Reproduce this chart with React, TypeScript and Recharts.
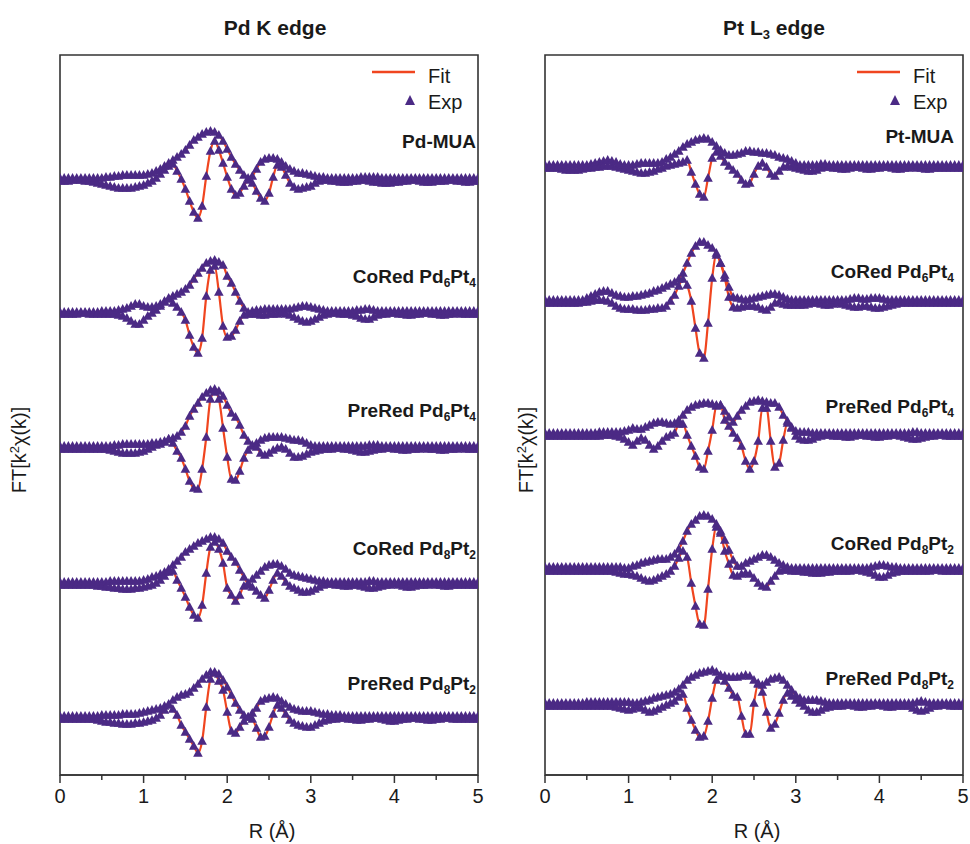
import React from 'react';
import { ComposedChart, Line, Scatter, XAxis, YAxis, ReferenceArea } from 'recharts';

const RED = '#f0451f';
const PURPLE = '#4b2a85';
const FRAME = '#333333';
const TEXT = '#1a1a1a';
const FONT = '"Liberation Sans", Arial, sans-serif';

// R grid (Å)
const rValues = [
  0, 0.05, 0.1, 0.15, 0.2, 0.25, 0.3, 0.35, 0.4, 0.45, 0.5,
  0.55, 0.6, 0.65, 0.7, 0.75, 0.8, 0.85, 0.9, 0.95, 1,
  1.05, 1.1, 1.15, 1.2, 1.25, 1.3, 1.35, 1.4, 1.45, 1.5,
  1.55, 1.6, 1.65, 1.7, 1.75, 1.8, 1.85, 1.9, 1.95, 2,
  2.05, 2.1, 2.15, 2.2, 2.25, 2.3, 2.35, 2.4, 2.45, 2.5,
  2.55, 2.6, 2.65, 2.7, 2.75, 2.8, 2.85, 2.9, 2.95, 3,
  3.05, 3.1, 3.15, 3.2, 3.25, 3.3, 3.35, 3.4, 3.45, 3.5,
  3.55, 3.6, 3.65, 3.7, 3.75, 3.8, 3.85, 3.9, 3.95, 4,
  4.05, 4.1, 4.15, 4.2, 4.25, 4.3, 4.35, 4.4, 4.45, 4.5,
  4.55, 4.6, 4.65, 4.7, 4.75, 4.8, 4.85, 4.9, 4.95, 5,
];

// ---- Pd K edge: magnitude / imaginary part ----
const pdMuaMag = [
  3, 3, 3, 3, 3, 3, 3, 3, 3, 3, 3,
  4, 4, 5, 5, 6, 6, 6, 6, 6, 6,
  7, 8, 10, 12, 15, 18, 21, 24, 27, 31,
  36, 41, 44, 47, 49, 50, 49, 46, 40, 32,
  24, 17, 11, 6, 3, 5, 12, 19, 22, 23,
  23, 22, 19, 15, 12, 10, 8, 8, 7, 6,
  5, 4, 4, 3, 3, 3, 3, 3, 3, 3,
  3, 4, 4, 4, 4, 4, 3, 3, 3, 3,
  3, 3, 3, 3, 3, 3, 3, 3, 3, 3,
  3, 3, 3, 3, 3, 3, 3, 3, 3, 3,
];
const pdMuaIm = [
  0, 0, 0, 1, 1, 1, 0, 0, -1, -2, -3,
  -4, -5, -6, -7, -7, -7, -7, -6, -5, -4,
  -2, 0, 3, 7, 11, 15, 17, 10, 2, -8,
  -20, -31, -37, -25, 5, 30, 40, 31, 18, 4,
  -8, -14, -12, -5, 1, -2, -10, -17, -20, -12,
  4, 16, 14, 6, -2, -6, -8, -7, -6, -5,
  -2, 0, 1, 1, 0, 0, -1, -1, -1, 0,
  0, 1, 1, 0, -1, -1, -2, -2, -2, -1,
  -1, 0, 0, 1, 1, 0, -1, -1, -1, 0,
  0, 0, 1, 1, 0, 0, -1, -1, 0, 0,
];
const pdCo64Mag = [
  2, 2, 2, 2, 2, 2, 2, 2, 2, 2, 3,
  3, 3, 3, 4, 5, 6, 8, 10, 10, 8,
  7, 7, 8, 10, 13, 16, 18, 20, 22, 25,
  29, 35, 41, 46, 51, 53, 54, 52, 49, 38,
  31, 22, 13, 6, 2, 3, 4, 4, 5, 5,
  5, 5, 5, 5, 5, 6, 7, 8, 8, 7,
  6, 5, 4, 3, 3, 3, 3, 3, 3, 3,
  4, 4, 5, 5, 4, 3, 3, 3, 3, 3,
  3, 3, 3, 3, 3, 3, 3, 3, 3, 3,
  3, 3, 3, 3, 3, 3, 3, 3, 3, 3,
];
const pdCo64Im = [
  0, 0, 0, 0, 0, 1, 1, 0, 0, 0, 0,
  0, 0, 0, -1, -2, -4, -7, -10, -10, -6,
  -2, 1, 4, 8, 12, 15, 11, 7, 2, -6,
  -21, -33, -39, -24, 18, 44, 48, 22, -12, -23,
  -22, -16, -7, -1, 0, 0, 0, -1, -1, 0,
  0, 0, 1, 0, -1, -3, -5, -7, -8, -7,
  -5, -3, -1, 0, 1, 1, 0, 0, 0, -1,
  -2, -4, -5, -5, -3, -1, 0, 0, 1, 1,
  0, 0, -1, -1, 0, 0, 1, 1, 0, 0,
  -1, -1, 0, 0, 1, 0, 0, 0, 0, 0,
];
const pdPre64Mag = [
  3, 3, 3, 3, 3, 3, 3, 3, 3, 3, 3,
  3, 3, 4, 4, 5, 5, 5, 5, 5, 5,
  5, 6, 6, 7, 8, 10, 11, 13, 17, 23,
  33, 40, 46, 52, 56, 59, 60, 58, 53, 44,
  36, 32, 24, 14, 8, 4, 6, 9, 11, 12,
  12, 12, 12, 11, 10, 9, 9, 8, 6, 4,
  3, 3, 3, 3, 3, 3, 3, 3, 3, 3,
  3, 3, 3, 4, 4, 4, 3, 3, 3, 3,
  3, 3, 3, 3, 3, 3, 3, 3, 3, 3,
  3, 3, 3, 3, 3, 3, 3, 3, 3, 3,
];
const pdPre64Im = [
  0, 0, 0, 0, 0, 0, 0, 0, 0, 0, 0,
  0, -1, -2, -3, -4, -4, -4, -4, -3, -2,
  0, 2, 4, 5, 7, 10, 6, -2, -9, -20,
  -32, -39, -40, -20, 12, 50, 57, 50, 21, -8,
  -30, -31, -22, -9, -1, 3, 2, -4, -6, -4,
  -1, 1, 2, 0, -4, -8, -8, -7, -5, -3,
  -2, -1, 0, 0, 0, 1, 1, 0, 0, -1,
  -2, -3, -3, -2, -1, 0, 0, 1, 1, 0,
  0, -1, -1, 0, 0, 0, 1, 0, 0, 0,
  -1, -1, 0, 0, 0, 1, 0, 0, 0, 0,
];
const pdCo82Mag = [
  3, 3, 3, 3, 3, 3, 3, 3, 3, 3, 3,
  3, 4, 4, 4, 4, 4, 4, 4, 4, 5,
  6, 8, 9, 11, 13, 16, 20, 24, 28, 33,
  36, 39, 42, 44, 46, 48, 48, 46, 42, 34,
  28, 23, 15, 8, 2, 6, 10, 14, 18, 20,
  21, 21, 19, 16, 12, 10, 9, 8, 7, 6,
  5, 4, 4, 3, 3, 3, 3, 3, 3, 3,
  3, 3, 3, 4, 4, 3, 3, 3, 3, 3,
  3, 3, 3, 3, 3, 3, 3, 3, 3, 3,
  3, 3, 3, 3, 3, 3, 3, 3, 3, 3,
];
const pdCo82Im = [
  0, 0, 0, 0, 0, 0, 0, 0, 0, -1, -1,
  -2, -2, -3, -3, -4, -4, -4, -3, -3, -2,
  -1, 0, 2, 5, 9, 13, 14, 5, -3, -12,
  -22, -30, -33, -20, 12, 38, 43, 36, 22, -3,
  -10, -16, -10, -1, 0, -2, -6, -10, -13, -5,
  5, 12, 9, 3, -1, -3, -5, -7, -7, -6,
  -4, -2, 0, 1, 1, 0, 0, -1, -1, 0,
  0, -1, -2, -3, -3, -2, -1, 0, 0, 1,
  0, -1, -2, -2, -1, 0, 0, 0, 1, 0,
  0, -1, -1, 0, 0, 0, 0, 0, 0, 0,
];
const pdPre82Mag = [
  3, 3, 3, 3, 3, 3, 3, 3, 3, 3, 4,
  4, 4, 4, 4, 5, 5, 5, 5, 6, 7,
  8, 9, 10, 11, 13, 15, 19, 22, 24, 25,
  27, 31, 35, 40, 44, 47, 47, 45, 39, 32,
  24, 16, 9, 4, 2, 6, 11, 18, 20, 21,
  22, 21, 18, 15, 12, 10, 9, 8, 8, 8,
  7, 6, 5, 5, 4, 4, 4, 3, 3, 3,
  3, 3, 3, 3, 3, 3, 3, 3, 3, 3,
  3, 3, 3, 3, 3, 3, 3, 3, 3, 3,
  3, 3, 3, 3, 3, 3, 3, 3, 3, 3,
];
const pdPre82Im = [
  0, 0, 0, 0, 0, 0, 0, 0, 0, -1, -2,
  -3, -3, -4, -4, -5, -5, -5, -4, -4, -3,
  -2, -1, 1, 4, 9, 14, 10, 4, -6, -13,
  -20, -27, -34, -22, 12, 40, 46, 38, 29, 7,
  -12, -14, -8, -2, 2, 0, -9, -18, -17, -8,
  5, 14, 11, 5, -1, -4, -6, -7, -8, -8,
  -6, -4, -2, -1, 0, 0, 1, 1, 0, 0,
  -1, -1, 0, 0, 1, 1, 0, -1, -2, -2,
  -1, 0, 0, 1, 1, 0, 0, -1, -1, 0,
  0, 1, 1, 0, 0, 0, 0, 0, 0, 0,
];

// ---- Pt L3 edge: magnitude / imaginary part ----
const ptMuaMag = [
  3, 3, 3, 3, 3, 3, 3, 3, 3, 3, 3,
  4, 5, 6, 7, 8, 7, 6, 4, 3, 3,
  3, 4, 5, 5, 5, 5, 5, 6, 9, 11,
  14, 17, 21, 24, 26, 28, 29, 30, 29, 26,
  22, 18, 15, 13, 13, 14, 15, 17, 17, 16,
  16, 15, 15, 14, 13, 11, 10, 9, 7, 5,
  3, 3, 3, 3, 3, 4, 4, 3, 3, 3,
  3, 3, 3, 3, 3, 3, 3, 3, 3, 3,
  3, 3, 3, 3, 3, 3, 3, 3, 3, 3,
  3, 3, 3, 3, 3, 3, 3, 3, 3, 3,
];
const ptMuaIm = [
  0, 0, 0, 0, -1, -2, -2, -2, -2, -1, 0,
  0, 1, 1, 2, 2, 2, 1, 0, -1, -2,
  -3, -4, -5, -5, -4, -3, -1, 0, 2, 3,
  4, 5, 6, 8, -4, -16, -26, -29, -10, 10,
  16, 12, 6, 2, -2, -6, -12, -16, -15, -6,
  2, 5, 1, -6, -8, -3, 1, 2, 1, 0,
  -1, -2, -3, -3, -2, 0, 1, 1, 0, 0,
  -1, -1, 0, 1, 1, 0, -1, -1, 0, 0,
  1, 1, 0, -1, -1, 0, 0, 1, 0, 0,
  -1, -1, 0, 0, 0, 0, 0, 0, 0, 0,
];
const ptCo64Mag = [
  3, 3, 3, 3, 3, 3, 3, 3, 3, 3, 5,
  7, 9, 11, 12, 12, 10, 8, 7, 6, 6,
  7, 7, 8, 9, 10, 12, 13, 15, 17, 19,
  21, 24, 30, 40, 50, 57, 61, 61, 58, 55,
  50, 40, 28, 16, 6, 5, 4, 3, 4, 5,
  6, 7, 8, 9, 9, 8, 6, 4, 3, 3,
  3, 3, 3, 3, 3, 3, 3, 3, 3, 3,
  3, 3, 4, 5, 5, 4, 4, 5, 5, 5,
  4, 3, 3, 3, 3, 3, 3, 3, 3, 3,
  3, 3, 3, 3, 3, 3, 3, 3, 3, 3,
];
const ptCo64Im = [
  0, 0, 0, 0, 0, 0, 0, 0, 0, 1, 1,
  2, 3, 3, 3, 2, 0, -3, -5, -6, -6,
  -6, -7, -7, -7, -6, -6, -5, -5, -3, 2,
  8, 17, 24, 18, 2, -25, -50, -55, -20, 25,
  48, 40, 25, 6, -4, -5, -4, -3, -3, -3,
  -4, -6, -7, -4, 0, 1, -1, -2, -2, -2,
  -2, -2, -1, 0, 0, -1, -2, -2, -1, 0,
  -1, -2, -3, -4, -4, -3, -3, -4, -5, -5,
  -4, -3, -2, -1, 0, 0, 0, 0, 0, 0,
  0, 0, 0, 0, 0, 0, 0, 0, 0, 0,
];
const ptPre64Mag = [
  3, 3, 3, 3, 3, 3, 3, 3, 3, 3, 3,
  3, 3, 4, 4, 4, 4, 4, 4, 5, 6,
  8, 7, 7, 9, 11, 13, 14, 14, 13, 12,
  13, 16, 21, 26, 29, 31, 32, 33, 33, 32,
  31, 31, 25, 19, 14, 20, 26, 30, 34, 35,
  36, 35, 34, 33, 33, 29, 21, 15, 9, 5,
  4, 4, 4, 3, 3, 3, 3, 3, 3, 3,
  3, 3, 3, 3, 3, 3, 3, 3, 3, 3,
  3, 3, 3, 3, 3, 3, 3, 4, 4, 3,
  3, 3, 3, 3, 3, 3, 3, 3, 3, 3,
];
const ptPre64Im = [
  0, 0, 0, 0, 0, 0, 0, 0, 0, 0, 0,
  0, 0, 0, 1, 1, 1, 0, -1, -3, -6,
  -9, -5, -2, -4, -9, -13, -10, -5, -1, 1,
  3, 12, 12, 1, -10, -20, -31, -33, -15, 6,
  30, 31, 16, 10, 3, -2, -10, -25, -33, -25,
  -5, 28, 28, -5, -31, -27, -4, 13, 8, 0,
  -3, -4, -4, -3, -1, 0, 1, 1, 0, 0,
  0, -1, -1, 0, 1, 1, 0, 0, -1, -1,
  0, 0, 1, 1, 0, -1, -2, -3, -3, -2,
  -1, 0, 0, 1, 1, 0, 0, 0, 0, 0,
];
const ptCo82Mag = [
  4, 4, 4, 4, 4, 4, 4, 4, 4, 4, 4,
  4, 4, 4, 4, 4, 4, 4, 4, 3, 3,
  5, 6, 8, 9, 10, 11, 12, 12, 12, 14,
  17, 22, 30, 40, 47, 51, 55, 56, 55, 52,
  47, 40, 31, 21, 11, 5, 5, 8, 10, 12,
  14, 16, 16, 14, 11, 8, 6, 4, 3, 3,
  3, 3, 3, 3, 3, 3, 3, 3, 3, 3,
  3, 3, 3, 3, 3, 3, 3, 4, 5, 6,
  6, 5, 4, 4, 3, 3, 3, 3, 3, 3,
  3, 3, 3, 3, 3, 3, 3, 3, 3, 3,
];
const ptCo82Im = [
  0, 0, 0, 0, 0, 0, 0, 0, 0, 0, 0,
  0, 0, 0, 0, 0, 0, -1, -2, -3, -3,
  -4, -5, -7, -9, -10, -9, -7, -5, -3, 0,
  5, 13, 20, 14, -12, -35, -53, -54, -18, 22,
  44, 38, 20, 7, -4, -5, -3, -2, -3, -7,
  -12, -15, -16, -10, -5, 0, 1, 1, 0, 0,
  0, -1, -1, -2, -2, -2, -1, -1, 0, 0,
  0, 0, 0, 1, 1, 0, -1, -2, -4, -6,
  -6, -4, -2, -1, 0, 0, 0, 0, 0, 0,
  0, 0, 1, 1, 0, 0, 0, 0, 0, 0,
];
const ptPre82Mag = [
  3, 3, 3, 3, 3, 3, 3, 3, 3, 3, 4,
  4, 4, 4, 4, 4, 4, 4, 4, 4, 4,
  3, 3, 4, 5, 6, 8, 9, 10, 11, 12,
  14, 17, 21, 26, 29, 31, 33, 34, 35, 36,
  34, 31, 30, 29, 29, 29, 30, 31, 30, 26,
  23, 21, 24, 27, 28, 29, 26, 21, 16, 11,
  8, 6, 6, 6, 6, 5, 4, 3, 3, 3,
  3, 3, 3, 3, 3, 3, 3, 3, 3, 3,
  3, 3, 3, 3, 3, 3, 3, 3, 4, 5,
  4, 3, 3, 3, 3, 3, 3, 3, 3, 3,
];
const ptPre82Im = [
  0, 0, 0, 0, 0, 0, 0, 0, 0, 0, 0,
  0, 0, 0, 0, 0, 0, -1, -2, -3, -4,
  -3, -1, -2, -4, -6, -5, -3, -1, 1, 3,
  5, 9, 12, -2, -14, -24, -31, -30, -15, 8,
  26, 30, 25, 18, 11, 9, -10, -28, -28, 3,
  22, 14, -6, -22, -18, -7, 6, 13, 10, 6,
  3, 0, -4, -6, -6, -4, -2, -1, 0, 0,
  0, 1, 1, 0, -1, -1, 0, 0, 1, 1,
  0, -1, -1, 0, 0, 0, 0, -2, -4, -5,
  -4, -2, 0, 0, 1, 1, 0, 0, 0, 0,
];

const pdMags = [pdMuaMag, pdCo64Mag, pdPre64Mag, pdCo82Mag, pdPre82Mag];
const pdIms = [pdMuaIm, pdCo64Im, pdPre64Im, pdCo82Im, pdPre82Im];
const ptMags = [ptMuaMag, ptCo64Mag, ptPre64Mag, ptCo82Mag, ptPre82Mag];
const ptIms = [ptMuaIm, ptCo64Im, ptPre64Im, ptCo82Im, ptPre82Im];

// vertical stacking offsets (y-axis units)
const pdOffsets = [594, 461, 326, 190, 56];
const ptOffsets = [607, 472, 339, 204, 69];

const pdLabels = ['Pd-MUA', 'CoRed Pd6Pt4', 'PreRed Pd6Pt4', 'CoRed Pd8Pt2', 'PreRed Pd8Pt2'];
const ptLabels = ['Pt-MUA', 'CoRed Pd6Pt4', 'PreRed Pd6Pt4', 'CoRed Pd8Pt2', 'PreRed Pd8Pt2'];

const xTicks = [0, 0.5, 1, 1.5, 2, 2.5, 3, 3.5, 4, 4.5, 5];

type Row = Record<string, number>;

function buildRows(mags: number[][], ims: number[][], offsets: number[]): Row[] {
  return rValues.map((r, i) => {
    const row: Row = { r };
    mags.forEach((m, k) => {
      row['m' + k] = offsets[k] + m[i];
      row['i' + k] = offsets[k] + ims[k][i];
    });
    return row;
  });
}

function buildPoints(rows: Row[], n: number) {
  const pts: { r: number; y: number }[] = [];
  rows.forEach((row) => {
    for (let k = 0; k < n; k++) {
      pts.push({ r: row.r, y: row['m' + k] });
      pts.push({ r: row.r, y: row['i' + k] });
    }
  });
  return pts;
}

const Tri = (props: any) => {
  const { cx, cy } = props;
  if (cx == null || cy == null) return <g />;
  return (
    <polygon
      points={`${cx},${cy - 5} ${cx - 4.8},${cy + 3.8} ${cx + 4.8},${cy + 3.8}`}
      fill={PURPLE}
    />
  );
};

const RTick = (props: any) => {
  const { x, y, payload } = props;
  const v = payload.value;
  const major = Number.isInteger(v);
  return (
    <g>
      <line x1={x} x2={x} y1={y} y2={y + (major ? 8 : 5)} stroke={FRAME} strokeWidth={1.5} />
      {major && (
        <text x={x} y={y + 28} textAnchor="middle" fontSize={20} fill={TEXT} fontFamily={FONT}>
          {v}
        </text>
      )}
    </g>
  );
};

// digits in sample names are drawn as subscripts
function SubLabel({ x, y, text }: { x: number; y: number; text: string }) {
  const parts = text.split(/(\d)/).filter((s) => s !== '');
  let sub = false;
  return (
    <text x={x} y={y} textAnchor="end" fontSize={19} fontWeight="bold" fill={TEXT} fontFamily={FONT}>
      {parts.map((p, j) => {
        const isDigit = /\d/.test(p);
        const dy = isDigit && !sub ? 4 : !isDigit && sub ? -4 : 0;
        sub = isDigit;
        return (
          <tspan key={j} dy={dy} fontSize={isDigit ? 12 : 19}>
            {p}
          </tspan>
        );
      })}
    </text>
  );
}

function EdgeChart({ rows, left, width, right }: { rows: Row[]; left: number; width: number; right: number }) {
  const keys: string[] = [];
  for (let k = 0; k < 5; k++) keys.push('m' + k, 'i' + k);
  const points = buildPoints(rows, 5);
  return (
    <div style={{ position: 'absolute', left, top: 0 }}>
      <ComposedChart width={width} height={844} data={rows} margin={{ top: 55, right, bottom: 9, left: 60 }}>
        <XAxis
          type="number"
          dataKey="r"
          domain={[0, 5]}
          ticks={xTicks}
          interval={0}
          allowDataOverflow
          tickLine={false}
          tickSize={0}
          tickMargin={0}
          height={60}
          axisLine={{ stroke: FRAME, strokeWidth: 1.5 }}
          tick={<RTick />}
        />
        <YAxis hide type="number" domain={[0, 720]} allowDataOverflow />
        {keys.map((k) => (
          <Line
            key={k}
            dataKey={k}
            type="monotone"
            stroke={RED}
            strokeWidth={2.2}
            dot={false}
            activeDot={false}
            isAnimationActive={false}
          />
        ))}
        <Scatter data={points} dataKey="y" shape={Tri} isAnimationActive={false} />
        <ReferenceArea x1={0} x2={5} y1={0} y2={720} fill="none" fillOpacity={0} stroke={FRAME} strokeWidth={1.6} />
      </ComposedChart>
    </div>
  );
}

const pdLabelY = [148, 283, 417, 555, 690];
const ptLabelY = [143, 278, 413, 550, 685];

function Legend({ x }: { x: number }) {
  return (
    <g>
      <line x1={x} x2={x + 43} y1={72} y2={72} stroke={RED} strokeWidth={2.5} />
      <text x={x + 56} y={83} fontSize={20} fill={TEXT} fontFamily={FONT}>Fit</text>
      <polygon points={`${x + 38},${95} ${x + 33},${105} ${x + 43},${105}`} fill={PURPLE} />
      <text x={x + 56} y={109} fontSize={20} fill={TEXT} fontFamily={FONT}>Exp</text>
    </g>
  );
}

function YLabel({ x }: { x: number }) {
  return (
    <text
      x={x}
      y={450}
      transform={`rotate(-90 ${x} 450)`}
      textAnchor="middle"
      fontSize={20}
      fill={TEXT}
      fontFamily={FONT}
    >
      FT[k
      <tspan dy={-7} fontSize={13}>2</tspan>
      <tspan dy={7}>χ(k)]</tspan>
    </text>
  );
}

export default function App() {
  const pdRows = buildRows(pdMags, pdIms, pdOffsets);
  const ptRows = buildRows(ptMags, ptIms, ptOffsets);
  return (
    <div style={{ position: 'absolute', left: 0, top: 0, width: 970, height: 844, background: '#fff', overflow: 'hidden' }}>
      <EdgeChart rows={pdRows} left={0} width={490} right={12} />
      <EdgeChart rows={ptRows} left={485} width={485} right={7} />
      <svg width={970} height={844} style={{ position: 'absolute', left: 0, top: 0, pointerEvents: 'none' }}>
        <text x={275} y={35} textAnchor="middle" fontSize={21} fontWeight="bold" fill={TEXT} fontFamily={FONT}>
          Pd K edge
        </text>
        <text x={774} y={35} textAnchor="middle" fontSize={21} fontWeight="bold" fill={TEXT} fontFamily={FONT}>
          Pt L<tspan dy={4} fontSize={13}>3</tspan>
          <tspan dy={-4}> edge</tspan>
        </text>
        <YLabel x={26} />
        <YLabel x={533} />
        <Legend x={372} />
        <Legend x={857} />
        {pdLabels.map((t, k) => (
          <SubLabel key={'pd' + k} x={476} y={pdLabelY[k]} text={t} />
        ))}
        {ptLabels.map((t, k) => (
          <SubLabel key={'pt' + k} x={954} y={ptLabelY[k]} text={t} />
        ))}
        <text x={272} y={838} textAnchor="middle" fontSize={20} fill={TEXT} fontFamily={FONT}>R (Å)</text>
        <text x={757} y={838} textAnchor="middle" fontSize={20} fill={TEXT} fontFamily={FONT}>R (Å)</text>
      </svg>
    </div>
  );
}
